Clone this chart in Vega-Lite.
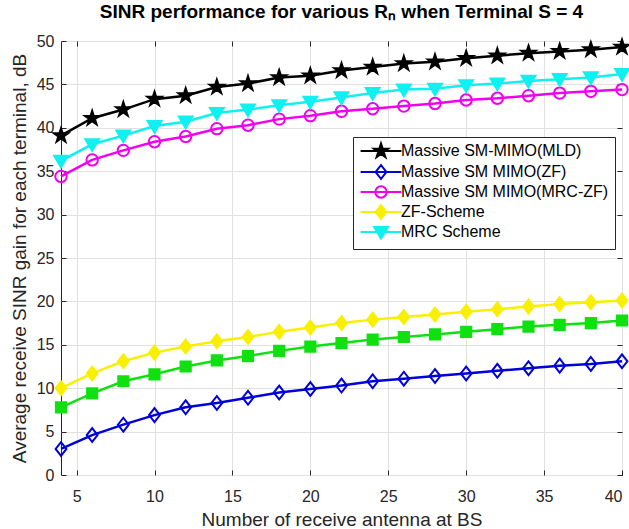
{
  "$schema": "https://vega.github.io/schema/vega-lite/v6.json",
  "width": 561,
  "height": 434,
  "autosize": "none",
  "padding": {"left": 61, "top": 41, "right": 7, "bottom": 54},
  "background": "white",
  "title": {
    "text": "SINR performance for various Rₙ when Terminal S = 4",
    "font": "Liberation Sans",
    "fontSize": 19,
    "fontWeight": "bold",
    "color": "#000000",
    "anchor": "middle",
    "baseline": "alphabetic",
    "offset": -4
  },
  "data": {
    "values": [
      {"series": "Massive SM-MIMO(MLD)", "x": 4, "y": 39.1},
      {"series": "Massive SM-MIMO(MLD)", "x": 6, "y": 41.1},
      {"series": "Massive SM-MIMO(MLD)", "x": 8, "y": 42.1},
      {"series": "Massive SM-MIMO(MLD)", "x": 10, "y": 43.3},
      {"series": "Massive SM-MIMO(MLD)", "x": 12, "y": 43.7},
      {"series": "Massive SM-MIMO(MLD)", "x": 14, "y": 44.7},
      {"series": "Massive SM-MIMO(MLD)", "x": 16, "y": 45.1},
      {"series": "Massive SM-MIMO(MLD)", "x": 18, "y": 45.8},
      {"series": "Massive SM-MIMO(MLD)", "x": 20, "y": 46.0},
      {"series": "Massive SM-MIMO(MLD)", "x": 22, "y": 46.6},
      {"series": "Massive SM-MIMO(MLD)", "x": 24, "y": 47.0},
      {"series": "Massive SM-MIMO(MLD)", "x": 26, "y": 47.4},
      {"series": "Massive SM-MIMO(MLD)", "x": 28, "y": 47.6},
      {"series": "Massive SM-MIMO(MLD)", "x": 30, "y": 48.0},
      {"series": "Massive SM-MIMO(MLD)", "x": 32, "y": 48.3},
      {"series": "Massive SM-MIMO(MLD)", "x": 34, "y": 48.6},
      {"series": "Massive SM-MIMO(MLD)", "x": 36, "y": 48.8},
      {"series": "Massive SM-MIMO(MLD)", "x": 38, "y": 49.0},
      {"series": "Massive SM-MIMO(MLD)", "x": 40, "y": 49.3},
      {"series": "Massive SM MIMO(ZF)", "x": 4, "y": 3.0},
      {"series": "Massive SM MIMO(ZF)", "x": 6, "y": 4.6},
      {"series": "Massive SM MIMO(ZF)", "x": 8, "y": 5.8},
      {"series": "Massive SM MIMO(ZF)", "x": 10, "y": 6.9},
      {"series": "Massive SM MIMO(ZF)", "x": 12, "y": 7.8},
      {"series": "Massive SM MIMO(ZF)", "x": 14, "y": 8.3},
      {"series": "Massive SM MIMO(ZF)", "x": 16, "y": 8.9},
      {"series": "Massive SM MIMO(ZF)", "x": 18, "y": 9.5},
      {"series": "Massive SM MIMO(ZF)", "x": 20, "y": 9.9},
      {"series": "Massive SM MIMO(ZF)", "x": 22, "y": 10.3},
      {"series": "Massive SM MIMO(ZF)", "x": 24, "y": 10.8},
      {"series": "Massive SM MIMO(ZF)", "x": 26, "y": 11.1},
      {"series": "Massive SM MIMO(ZF)", "x": 28, "y": 11.4},
      {"series": "Massive SM MIMO(ZF)", "x": 30, "y": 11.7},
      {"series": "Massive SM MIMO(ZF)", "x": 32, "y": 12.0},
      {"series": "Massive SM MIMO(ZF)", "x": 34, "y": 12.3},
      {"series": "Massive SM MIMO(ZF)", "x": 36, "y": 12.6},
      {"series": "Massive SM MIMO(ZF)", "x": 38, "y": 12.8},
      {"series": "Massive SM MIMO(ZF)", "x": 40, "y": 13.1},
      {"series": "Massive SM MIMO(MRC-ZF)", "x": 4, "y": 34.4},
      {"series": "Massive SM MIMO(MRC-ZF)", "x": 6, "y": 36.3},
      {"series": "Massive SM MIMO(MRC-ZF)", "x": 8, "y": 37.4},
      {"series": "Massive SM MIMO(MRC-ZF)", "x": 10, "y": 38.4},
      {"series": "Massive SM MIMO(MRC-ZF)", "x": 12, "y": 39.0},
      {"series": "Massive SM MIMO(MRC-ZF)", "x": 14, "y": 39.9},
      {"series": "Massive SM MIMO(MRC-ZF)", "x": 16, "y": 40.3},
      {"series": "Massive SM MIMO(MRC-ZF)", "x": 18, "y": 41.0},
      {"series": "Massive SM MIMO(MRC-ZF)", "x": 20, "y": 41.4},
      {"series": "Massive SM MIMO(MRC-ZF)", "x": 22, "y": 41.9},
      {"series": "Massive SM MIMO(MRC-ZF)", "x": 24, "y": 42.2},
      {"series": "Massive SM MIMO(MRC-ZF)", "x": 26, "y": 42.5},
      {"series": "Massive SM MIMO(MRC-ZF)", "x": 28, "y": 42.8},
      {"series": "Massive SM MIMO(MRC-ZF)", "x": 30, "y": 43.2},
      {"series": "Massive SM MIMO(MRC-ZF)", "x": 32, "y": 43.4},
      {"series": "Massive SM MIMO(MRC-ZF)", "x": 34, "y": 43.7},
      {"series": "Massive SM MIMO(MRC-ZF)", "x": 36, "y": 44.0},
      {"series": "Massive SM MIMO(MRC-ZF)", "x": 38, "y": 44.2},
      {"series": "Massive SM MIMO(MRC-ZF)", "x": 40, "y": 44.4},
      {"series": "ZF-Scheme", "x": 4, "y": 10.0},
      {"series": "ZF-Scheme", "x": 6, "y": 11.7},
      {"series": "ZF-Scheme", "x": 8, "y": 13.1},
      {"series": "ZF-Scheme", "x": 10, "y": 14.1},
      {"series": "ZF-Scheme", "x": 12, "y": 14.8},
      {"series": "ZF-Scheme", "x": 14, "y": 15.4},
      {"series": "ZF-Scheme", "x": 16, "y": 15.9},
      {"series": "ZF-Scheme", "x": 18, "y": 16.5},
      {"series": "ZF-Scheme", "x": 20, "y": 17.0},
      {"series": "ZF-Scheme", "x": 22, "y": 17.5},
      {"series": "ZF-Scheme", "x": 24, "y": 17.9},
      {"series": "ZF-Scheme", "x": 26, "y": 18.2},
      {"series": "ZF-Scheme", "x": 28, "y": 18.5},
      {"series": "ZF-Scheme", "x": 30, "y": 18.8},
      {"series": "ZF-Scheme", "x": 32, "y": 19.1},
      {"series": "ZF-Scheme", "x": 34, "y": 19.4},
      {"series": "ZF-Scheme", "x": 36, "y": 19.7},
      {"series": "ZF-Scheme", "x": 38, "y": 19.9},
      {"series": "ZF-Scheme", "x": 40, "y": 20.1},
      {"series": "MRC Scheme", "x": 4, "y": 36.2},
      {"series": "MRC Scheme", "x": 6, "y": 38.1},
      {"series": "MRC Scheme", "x": 8, "y": 39.1},
      {"series": "MRC Scheme", "x": 10, "y": 40.2},
      {"series": "MRC Scheme", "x": 12, "y": 40.7},
      {"series": "MRC Scheme", "x": 14, "y": 41.7},
      {"series": "MRC Scheme", "x": 16, "y": 42.1},
      {"series": "MRC Scheme", "x": 18, "y": 42.6},
      {"series": "MRC Scheme", "x": 20, "y": 43.0},
      {"series": "MRC Scheme", "x": 22, "y": 43.5},
      {"series": "MRC Scheme", "x": 24, "y": 44.0},
      {"series": "MRC Scheme", "x": 26, "y": 44.4},
      {"series": "MRC Scheme", "x": 28, "y": 44.5},
      {"series": "MRC Scheme", "x": 30, "y": 44.9},
      {"series": "MRC Scheme", "x": 32, "y": 45.1},
      {"series": "MRC Scheme", "x": 34, "y": 45.4},
      {"series": "MRC Scheme", "x": 36, "y": 45.6},
      {"series": "MRC Scheme", "x": 38, "y": 45.8},
      {"series": "MRC Scheme", "x": 40, "y": 46.2},
      {"series": "data6", "x": 4, "y": 7.8},
      {"series": "data6", "x": 6, "y": 9.4},
      {"series": "data6", "x": 8, "y": 10.8},
      {"series": "data6", "x": 10, "y": 11.6},
      {"series": "data6", "x": 12, "y": 12.5},
      {"series": "data6", "x": 14, "y": 13.2},
      {"series": "data6", "x": 16, "y": 13.7},
      {"series": "data6", "x": 18, "y": 14.3},
      {"series": "data6", "x": 20, "y": 14.8},
      {"series": "data6", "x": 22, "y": 15.2},
      {"series": "data6", "x": 24, "y": 15.6},
      {"series": "data6", "x": 26, "y": 15.9},
      {"series": "data6", "x": 28, "y": 16.2},
      {"series": "data6", "x": 30, "y": 16.5},
      {"series": "data6", "x": 32, "y": 16.8},
      {"series": "data6", "x": 34, "y": 17.1},
      {"series": "data6", "x": 36, "y": 17.3},
      {"series": "data6", "x": 38, "y": 17.5},
      {"series": "data6", "x": 40, "y": 17.8}
    ]
  },
  "resolve": {
    "scale": {"shape": "independent"},
    "axis": {"x": "independent", "y": "independent"},
    "legend": {"stroke": "independent", "fill": "independent"}
  },
  "layer": [
    {
      "mark": {"type": "line", "strokeWidth": 2.5, "clip": false},
      "encoding": {
        "x": {
          "field": "x", "type": "quantitative",
          "scale": {"domain": [4, 40], "nice": false, "zero": false},
          "axis": {
            "title": "Number of receive antenna at BS",
            "values": [5, 10, 15, 20, 25, 30, 35, 40],
            "grid": true, "gridColor": "#e1e1e1",
            "domain": false,
            "tickSize": -5, "tickColor": "#262626",
            "labelFont": "Liberation Sans", "labelFontSize": 16, "labelColor": "#262626",
            "labelPadding": 18,
            "titleFont": "Liberation Sans", "titleFontSize": 19, "titleFontWeight": "normal",
            "titleColor": "#262626", "titlePadding": 6
          }
        },
        "y": {
          "field": "y", "type": "quantitative",
          "scale": {"domain": [0, 50], "nice": false},
          "axis": {
            "title": "Average receive SINR gain for each terminal, dB",
            "values": [0, 5, 10, 15, 20, 25, 30, 35, 40, 45, 50],
            "grid": true, "gridColor": "#e1e1e1",
            "domain": false,
            "tickSize": -5, "tickColor": "#262626",
            "labelFont": "Liberation Sans", "labelFontSize": 16, "labelColor": "#262626",
            "labelPadding": 12,
            "titleFont": "Liberation Sans", "titleFontSize": 19, "titleFontWeight": "normal",
            "titleColor": "#262626", "titlePadding": 7
          }
        },
        "detail": {"field": "series"},
        "order": {"field": "x", "type": "quantitative"},
        "stroke": {
          "field": "series", "type": "nominal",
          "scale": {
            "domain": ["Massive SM-MIMO(MLD)", "Massive SM MIMO(ZF)", "Massive SM MIMO(MRC-ZF)", "ZF-Scheme", "MRC Scheme", "data6"],
            "range": ["#000000", "#0000d8", "#f000f0", "#f8f000", "#10f0f0", "#10e010"]
          },
          "legend": null
        }
      }
    },
    {
      "mark": {"type": "point", "size": 144, "strokeWidth": 2, "opacity": 1, "clip": false},
      "encoding": {
        "x": {"field": "x", "type": "quantitative", "axis": null},
        "y": {"field": "y", "type": "quantitative", "axis": null},
        "stroke": {"field": "series", "type": "nominal", "legend": null},
        "fill": {
          "field": "series", "type": "nominal",
          "scale": {
            "domain": ["Massive SM-MIMO(MLD)", "Massive SM MIMO(ZF)", "Massive SM MIMO(MRC-ZF)", "ZF-Scheme", "MRC Scheme", "data6"],
            "range": ["#000000", "transparent", "transparent", "#f8f000", "#10f0f0", "#10e010"]
          },
          "legend": null
        },
        "shape": {
          "field": "series", "type": "nominal",
          "scale": {
            "domain": ["Massive SM-MIMO(MLD)", "Massive SM MIMO(ZF)", "Massive SM MIMO(MRC-ZF)", "ZF-Scheme", "MRC Scheme", "data6"],
            "range": [
              "M0,-1.25L0.281,-0.386L1.189,-0.386L0.454,0.148L0.735,1.011L0,0.478L-0.735,1.011L-0.454,0.148L-1.189,-0.386L-0.281,-0.386Z",
              "M0,-1.15L0.9,0L0,1.15L-0.9,0Z",
              "M0.95,0A0.95,0.95 0 1,1 -0.95,0A0.95,0.95 0 1,1 0.95,0Z",
              "M0,-1.15L0.9,0L0,1.15L-0.9,0Z",
              "M-1.15,-0.85L1.15,-0.85L0,1.1Z",
              "M-0.85,-0.85H0.85V0.85H-0.85Z"
            ]
          },
          "legend": null
        }
      }
    },
    {
      "transform": [{"filter": "datum.x < 0"}],
      "mark": {"type": "point", "size": 144, "strokeWidth": 2, "opacity": 1},
      "encoding": {
        "x": {
          "field": "x", "type": "quantitative",
          "axis": {
            "orient": "top", "labels": false, "title": null, "grid": false, "domain": false,
            "values": [5, 10, 15, 20, 25, 30, 35, 40],
            "tickSize": -5, "tickColor": "#262626",
            "minExtent": 0, "maxExtent": 0
          }
        },
        "y": {
          "field": "y", "type": "quantitative",
          "axis": {
            "orient": "right", "labels": false, "title": null, "grid": false, "domain": false,
            "values": [0, 5, 10, 15, 20, 25, 30, 35, 40, 45, 50],
            "tickSize": -5, "tickColor": "#262626",
            "minExtent": 0, "maxExtent": 0
          }
        },
        "stroke": {
          "field": "series", "type": "nominal",
          "legend": {
            "values": ["Massive SM-MIMO(MLD)", "Massive SM MIMO(ZF)", "Massive SM MIMO(MRC-ZF)", "ZF-Scheme", "MRC Scheme"]
          }
        },
        "fill": {
          "field": "series", "type": "nominal",
          "legend": {
            "values": ["Massive SM-MIMO(MLD)", "Massive SM MIMO(ZF)", "Massive SM MIMO(MRC-ZF)", "ZF-Scheme", "MRC Scheme"]
          }
        },
        "shape": {
          "field": "series", "type": "nominal",
          "scale": {
            "domain": ["Massive SM-MIMO(MLD)", "Massive SM MIMO(ZF)", "Massive SM MIMO(MRC-ZF)", "ZF-Scheme", "MRC Scheme", "data6"],
            "range": [
              "M-3.4,0H3.4M0,-1.25L0.281,-0.386L1.189,-0.386L0.454,0.148L0.735,1.011L0,0.478L-0.735,1.011L-0.454,0.148L-1.189,-0.386L-0.281,-0.386Z",
              "M-3.4,0H3.4M0,-1.15L0.9,0L0,1.15L-0.9,0Z",
              "M-3.4,0H3.4M0.95,0A0.95,0.95 0 1,1 -0.95,0A0.95,0.95 0 1,1 0.95,0Z",
              "M-3.4,0H3.4M0,-1.15L0.9,0L0,1.15L-0.9,0Z",
              "M-3.4,0H3.4M-1.15,-0.85L1.15,-0.85L0,1.1Z",
              "M-3.4,0H3.4M-0.85,-0.85H0.85V0.85H-0.85Z"
            ]
          },
          "legend": {
            "values": ["Massive SM-MIMO(MLD)", "Massive SM MIMO(ZF)", "Massive SM MIMO(MRC-ZF)", "ZF-Scheme", "MRC Scheme"],
            "title": null,
            "orient": "none",
            "legendX": 292,
            "legendY": 96,
            "padding": 6,
            "rowPadding": -1,
            "strokeColor": "#262626",
            "fillColor": "#ffffff",
            "symbolSize": 144,
            "symbolStrokeWidth": 2,
            "symbolOpacity": 1,
            "symbolOffset": 14,
            "labelOffset": 12,
            "labelFont": "Liberation Sans",
            "labelFontSize": 16,
            "labelColor": "#000000",
            "labelLimit": 400
          }
        }
      }
    }
  ],
  "config": {
    "view": {"stroke": "#262626", "strokeWidth": 1}
  }
}
